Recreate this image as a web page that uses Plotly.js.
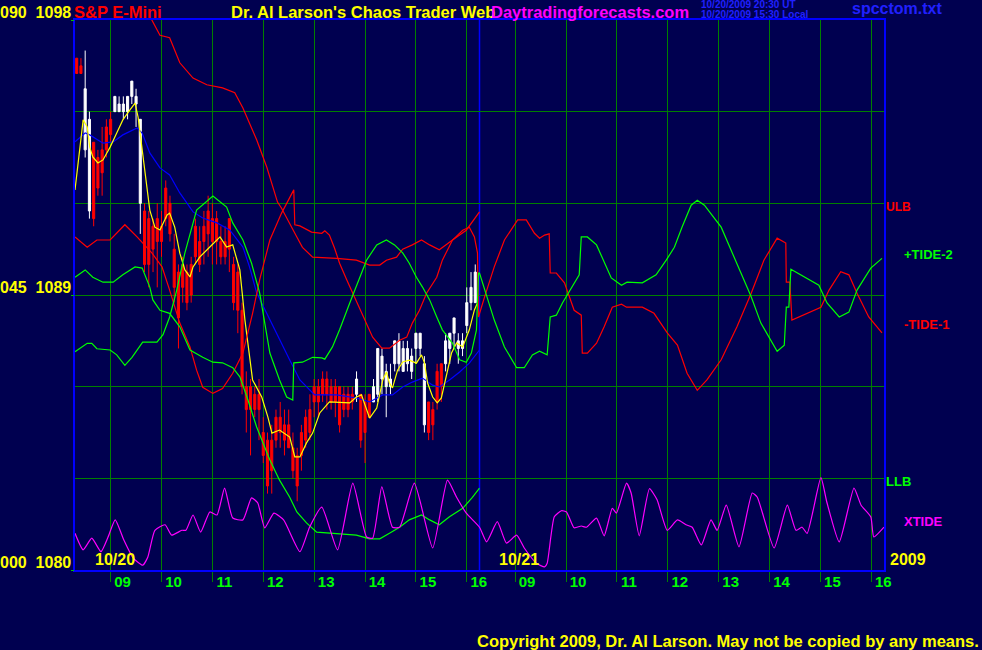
<!DOCTYPE html>
<html>
<head>
<meta charset="utf-8">
<script src="https://cdn.plot.ly/plotly-3.0.1.min.js"></script>
<style>html,body{margin:0;padding:0;background:#000050;}#chart{width:982px;height:650px;}</style>
</head>
<body>
<div id="chart"></div>
<script>
// ---------------- DATA ----------------
const SESSION_OPEN = 8.3;     // decimal clock hour of left edge of each day
const SESSION_CLOSE = 16.25;  // decimal clock hour of right edge of each day
const hourTicks = [9, 10, 11, 12, 13, 14, 15, 16];
const hourLabels = ["09", "10", "11", "12", "13", "14", "15", "16"];
const dayLabels = ["10/20", "10/21"];
const priceGrid = [1083, 1086, 1089, 1092, 1095];
const priceScale = [1080, 1089, 1098];
const tideScale = [0, 45, 90];
const tideScaleLabels = ["000", "045", "090"];
const priceScaleLabels = ["1080", "1089", "1098"];

// 5-minute price bars, 10/20
const barTimes = ["08:20","08:25","08:30","08:35","08:40","08:45","08:50","08:55",
"09:00","09:05","09:10","09:15","09:20","09:25","09:30","09:35","09:40","09:45","09:50","09:55",
"10:00","10:05","10:10","10:15","10:20","10:25","10:30","10:35","10:40","10:45","10:50","10:55",
"11:00","11:05","11:10","11:15","11:20","11:25","11:30","11:35","11:40","11:45","11:50","11:55",
"12:00","12:05","12:10","12:15","12:20","12:25","12:30","12:35","12:40","12:45","12:50","12:55",
"13:00","13:05","13:10","13:15","13:20","13:25","13:30","13:35","13:40","13:45","13:50","13:55",
"14:00","14:05","14:10","14:15","14:20","14:25","14:30","14:35","14:40","14:45","14:50","14:55",
"15:00","15:05","15:10","15:15","15:20","15:25","15:30","15:35","15:40","15:45","15:50","15:55",
"16:00","16:05","16:10"];
const barOpen = [1096.75,1096.5,1093.75,1091.75,1094.0,1093.5,1093.75,1094.5,1094.75,1095.0,1095.0,1095.0,1095.0,1095.5,1095.25,1092.0,
1091.75,1091.5,1091.25,1091.5,1091.25,1092.5,1092.0,1090.5,1089.75,1090.0,1089.75,1090.0,1091.25,1090.75,1091.25,1091.75,
1091.5,1091.5,1090.75,1090.75,1091.5,1090.0,1089.75,1088.5,1086.0,1086.0,1085.75,1085.75,1084.5,1084.25,1084.25,1085.0,
1085.0,1084.75,1084.75,1084.0,1083.75,1084.5,1085.0,1085.25,1086.0,1086.0,1086.25,1086.25,1086.0,1086.0,1086.0,1085.75,
1085.75,1085.75,1085.75,1085.75,1085.5,1085.75,1085.5,1085.75,1086.25,1086.0,1086.0,1086.75,1086.75,1086.5,1086.75,1086.5,
1087.25,1087.25,1084.75,1085.5,1085.25,1086.5,1086.75,1086.75,1087.25,1087.75,1087.25,1087.25,1088.0,1088.75,1088.75];
const barHigh = [1096.75,1096.75,1097.0,1095.0,1094.0,1093.75,1094.5,1094.75,1095.0,1095.5,1095.5,1095.5,1095.5,1096.0,1095.75,1094.75,
1092.0,1091.75,1091.5,1092.0,1091.75,1092.75,1092.25,1091.0,1090.0,1090.25,1090.0,1090.25,1091.5,1091.25,1091.75,1092.25,
1092.0,1091.75,1091.25,1091.25,1091.5,1090.25,1090.0,1088.75,1086.5,1086.25,1086.0,1086.25,1085.0,1084.5,1084.75,1085.25,
1085.5,1085.25,1085.25,1084.5,1084.0,1084.75,1085.25,1085.75,1086.25,1086.25,1086.5,1086.5,1086.25,1086.25,1086.0,1086.0,
1086.0,1086.0,1086.5,1085.75,1085.75,1085.75,1086.25,1087.25,1087.25,1086.75,1086.75,1087.5,1087.75,1087.5,1087.5,1087.25,
1087.75,1087.75,1087.0,1085.5,1085.5,1086.75,1086.75,1087.75,1087.75,1088.25,1087.75,1087.75,1089.25,1089.75,1090.0];
const barLow = [1096.25,1096.25,1093.5,1091.5,1091.25,1092.25,1092.25,1093.5,1094.0,1095.0,1095.0,1094.75,1094.75,1095.25,1094.5,1091.0,
1089.75,1089.25,1089.75,1089.25,1090.25,1091.25,1090.75,1088.75,1087.25,1088.75,1088.5,1088.75,1090.0,1089.75,1090.0,1090.25,
1090.0,1090.0,1090.0,1090.0,1089.75,1088.5,1087.75,1085.75,1084.5,1083.75,1085.0,1084.25,1083.5,1082.5,1082.5,1084.0,
1084.0,1083.75,1084.0,1083.0,1082.25,1083.25,1084.0,1084.25,1085.0,1085.0,1085.5,1085.25,1085.25,1085.0,1084.5,1085.0,
1085.0,1085.25,1085.5,1084.0,1083.5,1085.0,1085.5,1085.5,1085.75,1085.0,1085.75,1086.5,1086.5,1086.5,1086.5,1086.25,
1086.75,1087.0,1084.5,1084.25,1084.25,1085.25,1085.5,1086.5,1086.75,1087.25,1086.75,1087.0,1087.75,1088.5,1088.75];
const barClose = [1096.25,1096.25,1095.75,1094.75,1091.5,1092.5,1093.0,1093.75,1094.25,1095.5,1095.25,1095.25,1095.5,1096.0,1095.5,1094.75,
1090.0,1090.0,1090.5,1090.75,1090.75,1091.5,1091.0,1089.25,1088.25,1089.25,1088.75,1089.0,1090.25,1090.0,1090.75,1091.0,
1090.75,1090.75,1090.25,1090.25,1090.5,1088.75,1088.5,1086.0,1085.25,1085.25,1085.25,1085.25,1083.75,1082.75,1083.25,1084.25,
1084.5,1084.25,1084.0,1083.25,1082.75,1083.75,1084.25,1084.5,1085.5,1085.5,1085.75,1085.75,1085.5,1085.5,1084.75,1085.25,
1085.25,1085.5,1086.25,1084.25,1084.5,1085.0,1086.0,1087.25,1087.0,1086.5,1086.25,1087.5,1087.5,1087.25,1087.25,1087.0,
1087.75,1087.75,1086.75,1084.5,1084.75,1085.5,1086.0,1087.5,1087.75,1088.25,1087.5,1087.5,1088.75,1089.25,1089.75];

// moving average of price (yellow), 10/20
const maHour = [8.30,8.40,8.46,8.54,8.59,8.65,8.75,8.85,8.99,9.12,9.24,9.38,9.48,9.54,9.62,9.71,9.77,9.87,9.97,10.11,10.16,10.26,10.36,10.46,10.56,10.62,10.75,10.95,11.15,11.28,11.40,11.54,11.64,11.79,11.97,12.09,12.17,12.32,12.52,12.62,12.72,12.85,12.97,13.11,13.30,13.70,13.83,13.93,13.99,14.09,14.23,14.35,14.42,14.48,14.54,14.64,14.74,14.87,15.01,15.11,15.17,15.23,15.33,15.42,15.50,15.60,15.70,15.80,15.92,16.05,16.15,16.21];
const maPrice = [1092.44,1093.84,1094.73,1094.50,1093.84,1093.52,1093.32,1093.42,1093.84,1094.30,1094.73,1095.06,1095.28,1094.82,1093.75,1092.53,1091.78,1091.22,1091.13,1091.62,1091.68,1091.22,1090.37,1089.82,1089.59,1089.92,1090.24,1090.57,1090.90,1090.57,1090.64,1089.82,1088.18,1086.22,1085.66,1085.01,1084.48,1084.58,1084.35,1083.70,1083.70,1084.16,1084.48,1085.14,1085.50,1085.47,1085.66,1085.73,1085.47,1084.97,1085.30,1086.22,1086.48,1086.12,1085.96,1086.54,1086.81,1086.87,1086.77,1087.04,1086.77,1086.12,1085.66,1085.47,1085.63,1086.32,1087.10,1087.43,1087.30,1087.86,1088.51,1088.74];

// slow average (blue), 10/20
const slowHour = [8.30,8.50,8.59,8.85,9.05,9.24,9.52,9.62,9.77,9.97,10.16,10.36,10.62,10.81,11.09,11.34,11.60,11.73,11.87,12.13,12.32,12.52,12.72,13.01,13.44,13.83,14.09,14.35,14.54,14.74,14.93,15.13,15.33,15.46,15.66,15.86,16.05,16.25];
const slowPrice = [1094.01,1094.30,1094.24,1093.97,1094.01,1094.24,1094.47,1094.30,1093.65,1093.16,1092.93,1092.34,1091.72,1091.52,1091.36,1091.13,1090.57,1089.92,1089.07,1088.18,1087.53,1086.87,1086.22,1085.73,1085.73,1085.63,1085.50,1085.73,1085.73,1085.99,1086.15,1086.28,1086.05,1085.99,1086.22,1086.48,1086.77,1087.20];

// tide curves on the 000-090 scale
const upperTideHour = [9.67,9.81,9.97,10.16,10.36,10.62,10.89,11.20,11.44,11.60,11.87,12.07,12.28,12.36,12.66,12.77,12.97,13.44,13.83,14.09,14.29,14.42,14.62,14.74,14.93,15.11,15.27,15.46,15.72,15.99,16.25];
const upperTide = [92.5,90.0,87.5,87.1,83.0,80.5,79.4,78.9,78.1,75.6,70.4,65.9,60.2,59.2,54.5,52.8,51.2,51.0,50.7,49.9,49.9,50.7,51.2,52.5,53.2,54.0,53.2,52.4,54.0,55.6,58.6];

const minusTide1Hour_d1 = [8.30,8.54,8.73,8.99,9.28,9.52,9.81,10.01,10.16,10.36,10.56,10.69,10.81,11.01,11.20,11.40,11.60,11.79,11.93,12.13,12.36,12.60,12.62,12.72,12.95,13.15,13.21,13.30,13.40,13.50,13.64,13.76,13.89,14.03,14.15,14.33,14.48,14.68,14.82,14.93,15.07,15.21,15.41,15.52,15.72,15.92,16.05,16.15,16.21,16.23];
const minusTide1_d1 = [54.5,52.8,54.0,54.0,56.5,54.5,51.9,49.6,45.8,40.4,36.5,32.7,29.9,28.9,29.7,32.2,35.5,42.0,47.5,54.0,58.4,62.2,56.5,56.3,55.3,55.1,55.5,54.8,52.7,50.2,47.5,45.3,43.0,40.4,38.1,36.3,36.3,37.6,38.1,40.4,42.5,45.3,47.9,50.7,54.0,55.6,56.1,54.5,51.9,41.4];
const minusTide1Hour_d2 = [8.30,8.40,8.59,8.79,9.05,9.22,9.38,9.48,9.58,9.67,9.69,9.81,9.97,10.16,10.30,10.32,10.42,10.60,10.75,10.91,11.09,11.19,11.50,11.73,11.99,12.19,12.38,12.58,12.77,13.05,13.36,13.64,13.89,14.15,14.32,14.33,14.40,14.44,15.01,15.17,15.40,15.56,15.72,15.95,16.21];
const minusTide1_d2 = [42.0,44.7,49.6,54.0,57.3,57.3,55.1,54.3,54.8,55.0,48.6,48.6,47.0,42.5,41.7,35.5,35.5,37.1,39.8,43.0,43.5,43.0,43.0,42.0,38.8,36.8,32.2,29.4,31.1,34.4,39.8,45.3,50.7,54.3,53.5,47.1,47.1,40.9,43.0,45.8,48.8,48.3,45.3,41.4,38.8];

const plusTide2Hour_d1 = [8.30,8.54,8.63,8.73,8.99,9.12,9.28,9.42,9.63,9.91,10.03,10.16,10.30,10.46,10.69,11.01,11.28,11.40,11.60,11.77,11.93,12.13,12.32,12.46,12.58,12.60,12.77,12.97,13.15,13.21,13.36,13.50,13.70,13.89,14.03,14.23,14.42,14.58,14.74,14.87,15.01,15.13,15.27,15.41,15.52,15.72,15.86,15.99,16.09,16.19,16.23];
const plusTide2_d1 = [35.7,37.1,37.1,36.2,36.0,35.2,33.5,34.8,37.3,37.3,38.5,41.4,45.8,51.9,58.9,61.2,59.4,56.8,54.0,50.2,45.3,35.5,31.1,28.3,27.8,33.9,34.0,34.8,34.7,34.5,36.5,39.3,43.7,47.9,50.7,53.2,54.0,53.2,51.9,50.2,47.9,46.3,44.2,41.4,39.3,37.1,34.4,34.0,35.5,39.3,48.6];
const plusTide2Hour_d2 = [8.30,8.40,8.59,8.79,9.03,9.18,9.34,9.48,9.63,9.69,9.81,9.93,10.11,10.26,10.30,10.42,10.60,10.75,10.89,11.09,11.20,11.50,11.77,11.97,12.13,12.28,12.46,12.58,12.72,13.05,13.36,13.64,13.83,14.03,14.15,14.29,14.33,14.38,14.42,14.97,15.13,15.37,15.56,15.72,15.99,16.21];
const plusTide2_d2 = [48.6,45.8,40.9,36.5,33.1,33.1,35.2,35.8,35.2,41.4,41.7,43.7,46.3,48.3,54.5,54.5,53.2,50.4,47.8,46.6,47.1,47.0,48.3,50.7,52.8,56.1,59.7,60.5,59.7,56.1,50.2,44.7,40.4,37.6,35.8,36.8,43.0,43.0,49.2,46.6,43.7,41.4,42.2,45.8,49.4,51.0];

const lowerTideHour = [8.30,8.50,8.65,8.85,9.05,9.24,9.48,9.62,9.77,9.83,9.97,10.16,10.36,10.56,10.81,11.01,11.20,11.40,11.54,11.68,11.87,12.13,12.32,12.52,12.66,12.85,13.05,13.30,13.56,13.83,14.09,14.29,14.48,14.68,14.87,15.11,15.27,15.46,15.66,15.92,16.11,16.25];
const lowerTide = [47.9,49.1,47.9,47.1,47.1,48.3,49.6,49.4,46.3,44.2,42.5,42.0,39.8,36.0,34.8,34.0,33.9,33.1,31.6,28.3,23.4,18.0,14.7,11.9,9.5,7.7,6.2,6.0,5.9,5.7,5.1,5.1,6.0,7.0,8.2,9.0,8.2,7.4,8.7,10.1,11.9,13.4];

const xtideHour_d1 = [8.30,8.46,8.63,8.81,8.95,9.09,9.26,9.44,9.63,9.73,9.87,10.07,10.20,10.40,10.48,10.62,10.77,10.95,11.09,11.24,11.40,11.60,11.77,11.89,12.03,12.21,12.40,12.72,12.91,13.15,13.46,13.76,14.03,14.15,14.33,14.54,14.68,14.97,15.33,15.62,15.80,15.99];
const xtide_d1 = [6.0,3.3,5.2,3.0,5.4,8.2,4.9,2.0,0.8,2.1,6.5,7.4,5.7,6.5,6.5,9.0,6.2,9.5,9.0,13.4,8.5,8.2,11.8,11.0,6.9,9.3,8.2,3.0,7.0,10.3,3.3,14.2,5.4,5.2,13.6,7.0,7.0,14.2,3.6,14.7,11.9,9.3];
const xtideHour_d2 = [8.30,8.44,8.65,8.83,9.03,9.18,9.42,9.58,9.63,9.77,9.91,10.01,10.16,10.30,10.40,10.60,10.75,10.91,10.99,11.19,11.28,11.44,11.64,11.79,11.99,12.19,12.36,12.48,12.66,12.85,12.97,13.15,13.40,13.66,13.76,14.09,14.35,14.52,14.64,14.74,15.01,15.13,15.37,15.66,15.80,15.99,16.05,16.25];
const xtide_d2 = [7.0,4.6,7.9,4.4,5.7,3.6,1.1,0.5,1.1,8.7,9.7,9.5,6.9,7.2,7.0,8.5,5.6,10.1,9.3,14.2,12.6,5.6,13.3,11.5,6.5,8.2,7.4,7.0,4.1,8.2,6.5,10.6,3.8,12.6,11.9,3.6,10.6,6.5,7.0,6.0,15.1,11.0,4.6,13.4,10.6,8.7,5.4,7.0];

// ---------------- BUILD ----------------
const SPAN = SESSION_CLOSE - SESSION_OPEN;
const onDay = (hours, day) => hours.map(h => h + day * SPAN);
const clock = t => { const [h, m] = t.split(":").map(Number); return h + m / 60; };
const FONT = "Liberation Sans, Arial, sans-serif";

const barX = barTimes.map(clock);

const traces = [
  { type: "candlestick", x: barX, open: barOpen, high: barHigh, low: barLow, close: barClose,
    increasing: { line: { color: "#ffffff", width: 1 }, fillcolor: "#ffffff" },
    decreasing: { line: { color: "#ff0000", width: 1 }, fillcolor: "#ff0000" },
    whiskerwidth: 0, hoverinfo: "skip", showlegend: false },
  { type: "scatter", mode: "lines", x: slowHour, y: slowPrice, line: { color: "#0000ff", width: 1.2 }, showlegend: false },
  { type: "scatter", mode: "lines", x: maHour, y: maPrice, line: { color: "#ffff00", width: 1.2 }, showlegend: false },
  { type: "scatter", mode: "lines", x: upperTideHour, y: upperTide, yaxis: "y2", line: { color: "#ff0000", width: 1.2 }, showlegend: false },
  { type: "scatter", mode: "lines", x: onDay(minusTide1Hour_d1, 0).concat(onDay(minusTide1Hour_d2, 1)), y: minusTide1_d1.concat(minusTide1_d2), yaxis: "y2", line: { color: "#ff0000", width: 1.2 }, showlegend: false },
  { type: "scatter", mode: "lines", x: lowerTideHour, y: lowerTide, yaxis: "y2", line: { color: "#00ff00", width: 1.2 }, showlegend: false },
  { type: "scatter", mode: "lines", x: onDay(plusTide2Hour_d1, 0).concat(onDay(plusTide2Hour_d2, 1)), y: plusTide2_d1.concat(plusTide2_d2), yaxis: "y2", line: { color: "#00ff00", width: 1.2 }, showlegend: false },
  { type: "scatter", mode: "lines", x: onDay(xtideHour_d1, 0).concat(onDay(xtideHour_d2, 1)), y: xtide_d1.concat(xtide_d2), yaxis: "y2", line: { color: "#ff00ff", width: 1.2, shape: "spline", smoothing: 0.5 }, showlegend: false }
];

const tickvals = onDay(hourTicks, 0).concat(onDay(hourTicks, 1));
const ticktext = hourLabels.concat(hourLabels);

const ann = [];
const txt = (text, x, y, color, size, xanchor, extra) => ann.push(Object.assign({
  text: text, x: x, y: y, xref: "paper", yref: "paper", xanchor: xanchor || "left", yanchor: "middle",
  showarrow: false, font: { family: FONT, size: size, color: color }, borderpad: 0
}, extra || {}));

// left scale labels
for (let i = 0; i < priceScale.length; i++) {
  ann.push({ text: "<b>" + tideScaleLabels[i] + "\u00a0\u00a0" + priceScaleLabels[i] + "</b>",
    xref: "paper", x: 0, xanchor: "right", xshift: -3, yref: "y", y: priceScale[i], yanchor: "middle", yshift: 8,
    showarrow: false, borderpad: 0, font: { family: FONT, size: 16, color: "#ffff00" } });
}
txt("<b>S&P E-Mini</b>", 0.0, 1.0145, "#ff0000", 16.5, "left", { xshift: -2 });
txt("<b>Dr. Al Larson's Chaos Trader Web</b>", 0.1916, 1.0145, "#ffff00", 16.5);
txt("<b>Daytradingforecasts.com</b>", 0.513, 1.0145, "#ff00ff", 16.5);
txt("<b>10/20/2009 20:30 UT</b>", 0.7726, 1.0282, "#2020ff", 10);
txt("<b>10/20/2009 15:30 Local</b>", 0.7726, 1.0105, "#2020ff", 10);
txt("<b>spcctom.txt</b>", 0.959, 1.02, "#2020ff", 16);
txt("<b>" + dayLabels[0] + "</b>", 0.0494, 0.02, "#ffff00", 16, "center");
txt("<b>" + dayLabels[1] + "</b>", 0.5488, 0.02, "#ffff00", 16, "center");
txt("<b>2009</b>", 1.006, 0.02, "#ffff00", 16);
txt("<b>Copyright 2009, Dr. Al Larson. May not be copied by any means.</b>", 1.1187, -0.129, "#ffff00", 16.5, "right");
txt("<b>ULB</b>", 1.0012, 0.66, "#ff0000", 12);
txt("<b>+TIDE-2</b>", 1.0235, 0.5745, "#00ff00", 13);
txt("<b>-TIDE-1</b>", 1.0235, 0.4455, "#ff0000", 13);
txt("<b>LLB</b>", 1.0012, 0.1618, "#00ff00", 13);
txt("<b>XTIDE</b>", 1.0235, 0.0873, "#ff00ff", 13);

const layout = {
  width: 982, height: 650,
  margin: { l: 75, r: 98, t: 20, b: 80 },
  paper_bgcolor: "#000050", plot_bgcolor: "#000050",
  showlegend: false,
  font: { family: FONT },
  xaxis: {
    range: [SESSION_OPEN, SESSION_OPEN + 2 * SPAN], tickmode: "array", tickvals: tickvals, ticktext: ticktext,
    showgrid: true, gridcolor: "#008000", gridwidth: 1, zeroline: false,
    ticks: "outside", ticklen: 10, tickcolor: "#008000", tickwidth: 1,
    tickfont: { family: FONT, size: 15, color: "#00ff00", weight: "bold" },
    ticklabelshift: 12, ticklabelstandoff: -13,
    showline: true, linecolor: "#0000ff", linewidth: 2, mirror: true,
    rangeslider: { visible: false }, fixedrange: true
  },
  yaxis: {
    range: [priceScale[0], priceScale[priceScale.length - 1]], tickmode: "array", tickvals: priceGrid,
    showticklabels: false, ticks: "", showgrid: true, gridcolor: "#008000", gridwidth: 1, zeroline: false,
    showline: true, linecolor: "#0000ff", linewidth: 2, mirror: true, fixedrange: true
  },
  yaxis2: {
    overlaying: "y", side: "left", range: [tideScale[0], tideScale[tideScale.length - 1]],
    tickmode: "array", tickvals: tideScale, showticklabels: false, ticks: "outside", ticklen: 3,
    tickcolor: "#00c000", showgrid: false, zeroline: false, showline: false, fixedrange: true
  },
  shapes: [
    { type: "line", xref: "x", yref: "paper", x0: SESSION_CLOSE, x1: SESSION_CLOSE, y0: 0, y1: 1,
      line: { color: "#0000ff", width: 1.5 }, layer: "below" }
  ],
  annotations: ann
};

Plotly.newPlot("chart", traces, layout, { staticPlot: true, displayModeBar: false });
</script>
</body>
</html>
